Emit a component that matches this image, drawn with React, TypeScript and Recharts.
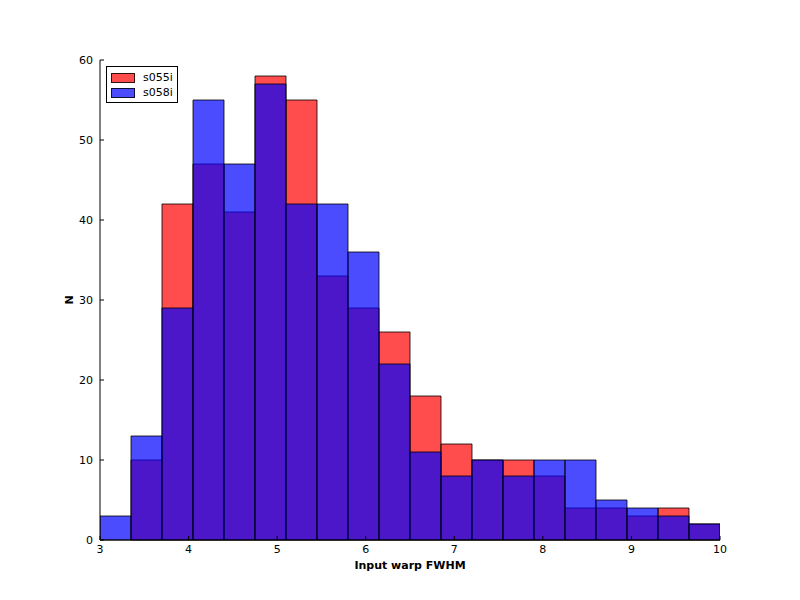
import { Bar, ComposedChart, XAxis, YAxis } from 'recharts'

const binEdges = [3, 3.35, 3.7, 4.05, 4.4, 4.75, 5.1, 5.45, 5.8, 6.15, 6.5, 6.85, 7.2, 7.55, 7.9, 8.25, 8.6, 8.95, 9.3, 9.65, 10]
const s055i = [0, 10, 42, 47, 41, 58, 55, 33, 29, 26, 18, 12, 10, 10, 8, 4, 4, 3, 4, 2]
const s058i = [3, 13, 29, 55, 47, 57, 42, 42, 36, 22, 11, 8, 10, 8, 10, 10, 5, 4, 3, 2]
const xTicks = [3, 4, 5, 6, 7, 8, 9, 10]
const yTicks = [0, 10, 20, 30, 40, 50, 60]

const data = s055i.map((v, i) => ({
    mid: (binEdges[i] + binEdges[i + 1]) / 2,
    s055i: v,
    s058i: s058i[i],
}))

const font = '"DejaVu Sans", sans-serif'

const BottomTick = ({ x, y, payload }: any) => (
    <g>
        <line x1={x} y1={y} x2={x} y2={y - 4} stroke="#000" />
        <text x={x} y={y + 13} textAnchor="middle" fontSize={11} fontFamily={font} fill="#000">
            {payload.value}
        </text>
    </g>
)

const TopTick = ({ x, y }: any) => <line x1={x} y1={y} x2={x} y2={y + 4} stroke="#000" />

const LeftTick = ({ x, y, payload }: any) => (
    <g>
        <line x1={x} y1={y} x2={x + 4} y2={y} stroke="#000" />
        <text x={x - 7} y={y + 4} textAnchor="end" fontSize={11} fontFamily={font} fill="#000">
            {payload.value}
        </text>
    </g>
)

const RightTick = ({ x, y }: any) => <line x1={x} y1={y} x2={x - 4} y2={y} stroke="#000" />

const legendItems = [
    { label: 's055i', color: 'rgba(255,0,0,0.7)' },
    { label: 's058i', color: 'rgba(0,0,255,0.7)' },
]

export default function App() {
    return (
        <div style={{ position: 'absolute', left: 0, top: 0, width: 800, height: 600, background: '#fff' }}>
            <ComposedChart
                width={800}
                height={600}
                data={data}
                margin={{ top: 60, right: 80, bottom: 20, left: 60 }}
                barCategoryGap={0}
                barGap={0}
            >
                <XAxis
                    xAxisId="bottom"
                    dataKey="mid"
                    type="number"
                    domain={[3, 10]}
                    allowDataOverflow
                    ticks={xTicks}
                    height={40}
                    tickSize={0}
                    tickMargin={0}
                    tickLine={false}
                    axisLine={{ stroke: '#000' }}
                    tick={<BottomTick />}
                    interval={0}
                />
                <XAxis
                    xAxisId="top"
                    orientation="top"
                    dataKey="mid"
                    type="number"
                    domain={[3, 10]}
                    allowDataOverflow
                    ticks={xTicks}
                    height={0}
                    tickSize={0}
                    tickMargin={0}
                    tickLine={false}
                    axisLine={{ stroke: '#000' }}
                    tick={<TopTick />}
                    interval={0}
                />
                <YAxis
                    yAxisId="left"
                    domain={[0, 60]}
                    ticks={yTicks}
                    width={40}
                    tickSize={0}
                    tickMargin={0}
                    tickLine={false}
                    axisLine={{ stroke: '#000' }}
                    tick={<LeftTick />}
                    interval={0}
                />
                <YAxis
                    yAxisId="right"
                    orientation="right"
                    domain={[0, 60]}
                    ticks={yTicks}
                    width={0}
                    tickSize={0}
                    tickMargin={0}
                    tickLine={false}
                    axisLine={{ stroke: '#000' }}
                    tick={<RightTick />}
                    interval={0}
                />
                <Bar
                    xAxisId="bottom"
                    yAxisId="left"
                    dataKey="s055i"
                    fill="#ff0000"
                    fillOpacity={0.7}
                    stroke="#000"
                    strokeOpacity={0.8}
                    isAnimationActive={false}
                />
                <Bar
                    xAxisId="top"
                    yAxisId="right"
                    dataKey="s058i"
                    fill="#0000ff"
                    fillOpacity={0.7}
                    stroke="#000"
                    strokeOpacity={0.8}
                    isAnimationActive={false}
                />
                <text x={410} y={569} textAnchor="middle" fontSize={11} fontWeight="bold" fontFamily={font}>
                    Input warp FWHM
                </text>
                <text
                    x={73}
                    y={300}
                    textAnchor="middle"
                    fontSize={11}
                    fontWeight="bold"
                    fontFamily={font}
                    transform="rotate(-90 73 300)"
                >
                    N
                </text>
            </ComposedChart>
            <div
                style={{
                    position: 'absolute',
                    left: 106,
                    top: 66,
                    width: 66,
                    border: '1px solid #000',
                    background: '#fff',
                    padding: '3px 0 2px 4px',
                    fontFamily: font,
                    fontSize: 11,
                }}
            >
                {legendItems.map((item) => (
                    <div key={item.label} style={{ display: 'flex', alignItems: 'center', height: 15 }}>
                        <span
                            style={{
                                display: 'inline-block',
                                width: 22,
                                height: 8,
                                background: item.color,
                                border: '1px solid rgba(0,0,0,0.8)',
                                marginRight: 8,
                            }}
                        />
                        {item.label}
                    </div>
                ))}
            </div>
        </div>
    )
}
